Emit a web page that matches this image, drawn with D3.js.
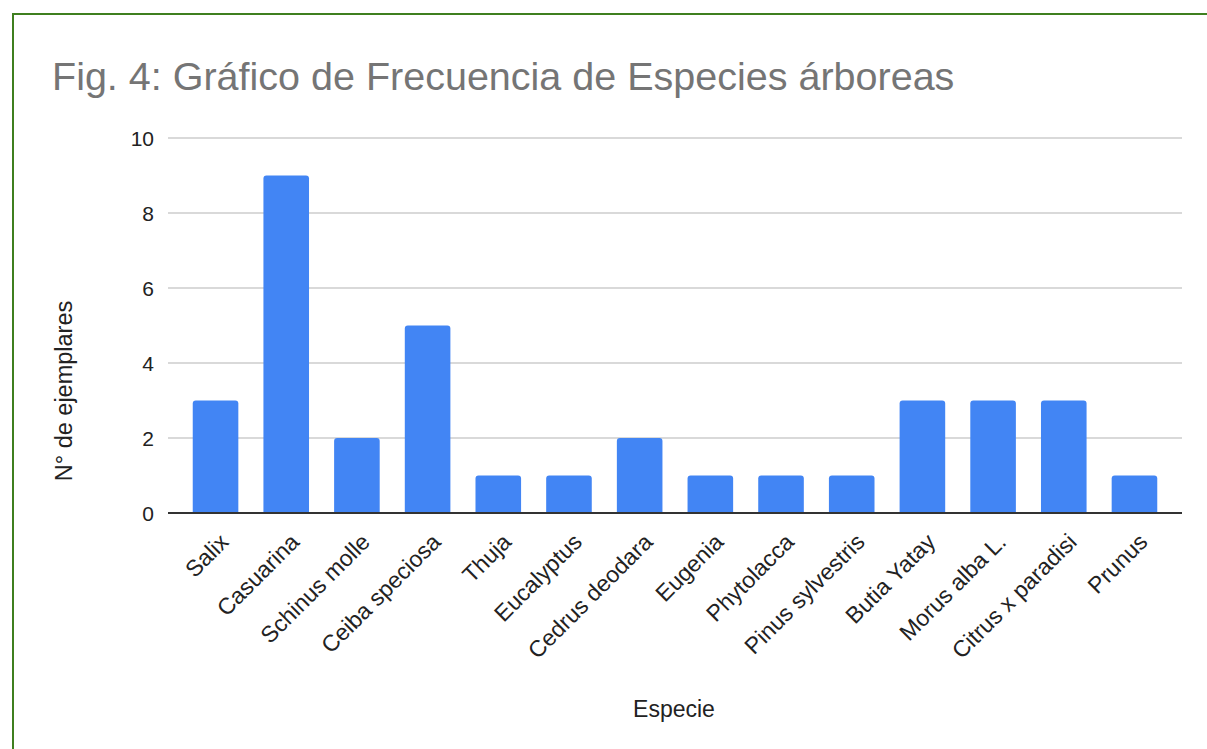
<html>
<head>
<script src="https://d3js.org/d3.v7.min.js"></script>
<style>
  body { margin: 0; background: #fff; }
  text { font-family: "Liberation Sans", Arial, sans-serif; }
</style>
</head>
<body>
<svg width="1207" height="749"></svg>
<script>
  var species = ["Salix", "Casuarina", "Schinus molle", "Ceiba speciosa", "Thuja",
    "Eucalyptus", "Cedrus deodara", "Eugenia", "Phytolacca", "Pinus sylvestris",
    "Butia Yatay", "Morus alba L.", "Citrus x paradisi", "Prunus"];
  var counts = [3, 9, 2, 5, 1, 1, 2, 1, 1, 1, 3, 3, 3, 1];
  var yTicks = [0, 2, 4, 6, 8, 10];

  var svg = d3.select("svg");

  // green frame, runs off the right and bottom edge
  svg.append("rect")
    .attr("x", 13).attr("y", 14)
    .attr("width", 1220).attr("height", 760)
    .attr("fill", "none")
    .attr("stroke", "#3f7f1f")
    .attr("stroke-width", 2);

  svg.append("text")
    .attr("x", 52).attr("y", 90)
    .attr("fill", "#757575")
    .style("font-size", "39.5px")
    .text("Fig. 4: Gráfico de Frecuencia de Especies árboreas");

  var x = d3.scaleBand().domain(species).range([168, 1182]).paddingInner(0.355).paddingOuter(0.35);
  var y = d3.scaleLinear().domain([0, 10]).range([513, 138]);

  // gridlines
  svg.append("g").selectAll("line")
    .data(yTicks.filter(function (d) { return d > 0; }))
    .enter().append("line")
    .attr("x1", 168).attr("x2", 1182)
    .attr("y1", function (d) { return y(d); })
    .attr("y2", function (d) { return y(d); })
    .attr("stroke", "#cccccc")
    .attr("stroke-width", 1.3);

  svg.append("g").selectAll("text")
    .data(yTicks)
    .enter().append("text")
    .attr("x", 154)
    .attr("y", function (d) { return y(d); })
    .attr("dy", "0.36em")
    .attr("text-anchor", "end")
    .attr("fill", "#222")
    .style("font-size", "21px")
    .text(function (d) { return d; });

  // bars with rounded tops
  var r = 3;
  svg.append("g").selectAll("path")
    .data(counts)
    .enter().append("path")
    .attr("fill", "#4285f4")
    .attr("d", function (d, i) {
      var x0 = x(species[i]), w = x.bandwidth(), y0 = y(0), y1 = y(d);
      return "M" + x0 + "," + y0 +
        "V" + (y1 + r) +
        "Q" + x0 + "," + y1 + " " + (x0 + r) + "," + y1 +
        "H" + (x0 + w - r) +
        "Q" + (x0 + w) + "," + y1 + " " + (x0 + w) + "," + (y1 + r) +
        "V" + y0 + "Z";
    });

  svg.append("line")
    .attr("x1", 168).attr("x2", 1182)
    .attr("y1", y(0)).attr("y2", y(0))
    .attr("stroke", "#333")
    .attr("stroke-width", 2);

  svg.append("g").selectAll("text")
    .data(species)
    .enter().append("text")
    .attr("transform", function (d) {
      return "translate(" + (x(d) + x.bandwidth() / 2 + 3) + ",532) rotate(-45)";
    })
    .attr("text-anchor", "end")
    .attr("dy", "0.7em")
    .attr("fill", "#222")
    .style("font-size", "23px")
    .text(function (d) { return d; });

  svg.append("text")
    .attr("x", 674).attr("y", 717)
    .attr("text-anchor", "middle")
    .attr("fill", "#222")
    .style("font-size", "23px")
    .text("Especie");

  svg.append("text")
    .attr("transform", "translate(72,391) rotate(-90)")
    .attr("text-anchor", "middle")
    .attr("fill", "#222")
    .style("font-size", "23.5px")
    .text("N° de ejemplares");
</script>
</body>
</html>
